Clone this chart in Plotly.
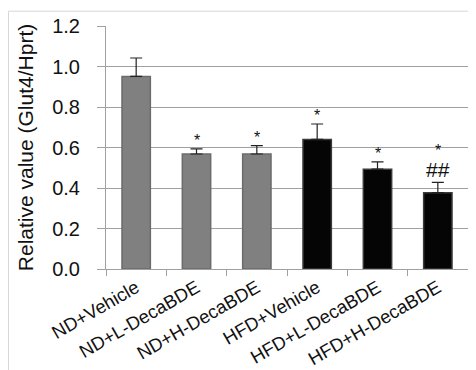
import plotly.graph_objects as go

categories = ["ND+Vehicle", "ND+L-DecaBDE", "ND+H-DecaBDE",
              "HFD+Vehicle", "HFD+L-DecaBDE", "HFD+H-DecaBDE"]
values = [0.951, 0.568, 0.568, 0.640, 0.493, 0.377]
errors = [0.091, 0.025, 0.041, 0.076, 0.036, 0.051]
sig_marks = ["", "*", "*", "*", "*", "*"]
hash_marks = ["", "", "", "", "", "##"]
y_ticks = [0.0, 0.2, 0.4, 0.6, 0.8, 1.0, 1.2]

fill_colors = ["#808080"] * 3 + ["#050505"] * 3
line_colors = ["#6b6b6b"] * 3 + ["#3a3a3a"] * 3
FONT = "Liberation Sans, Arial, sans-serif"

fig = go.Figure()
fig.add_trace(go.Bar(
    x=categories, y=values,
    marker=dict(color=fill_colors, line=dict(color=line_colors, width=1.5)),
    width=0.47,
    error_y=dict(type="data", array=errors, arrayminus=[0] * len(errors),
                 symmetric=False, color="#222222", thickness=1.2, width=6),
    showlegend=False,
))

annotations = []
for c, v, e, s, h in zip(categories, values, errors, sig_marks, hash_marks):
    top = v + e
    if h:
        annotations.append(dict(x=c, y=top, text=h, showarrow=False, yanchor="bottom",
                                yshift=-1, font=dict(size=21, color="#111111", family=FONT)))
        if s:
            annotations.append(dict(x=c, y=top, text=s, showarrow=False, yanchor="bottom",
                                    yshift=21, font=dict(size=16, color="#111111", family=FONT)))
    elif s:
        annotations.append(dict(x=c, y=top, text=s, showarrow=False, yanchor="bottom",
                                yshift=-2, font=dict(size=16, color="#111111", family=FONT)))

fig.update_layout(
    width=468, height=362,
    margin=dict(l=98, r=8, t=18, b=101, autoexpand=False),
    paper_bgcolor="white", plot_bgcolor="white",
    font=dict(family=FONT, color="#111111"),
    annotations=annotations,
    shapes=[dict(type="rect", xref="paper", yref="paper",
                 x0=-0.2693, x1=1.1, y0=-0.6, y1=1.061,
                 line=dict(color="#d8d8d8", width=1), layer="below")],
)
fig.update_yaxes(
    range=[0, 1.2], tickvals=y_ticks, ticktext=[f"{t:.1f}" for t in y_ticks],
    tickfont=dict(size=20), showgrid=True, gridcolor="#a0a0a0", gridwidth=1,
    showline=True, linecolor="#a0a0a0", linewidth=1,
    ticks="outside", ticklen=8, tickcolor="#a0a0a0", ticklabelstandoff=13,
    automargin=False,
    title=dict(text="Relative value (Glut4/Hprt)", font=dict(size=21), standoff=12),
    zeroline=False,
)
fig.update_xaxes(
    tickangle=-30, tickfont=dict(size=18.5), showline=True, linecolor="#a0a0a0",
    linewidth=1, ticks="outside", tickson="boundaries", ticklen=6, tickcolor="#a0a0a0",
    automargin=False,
)

fig.write_html("out.html")
